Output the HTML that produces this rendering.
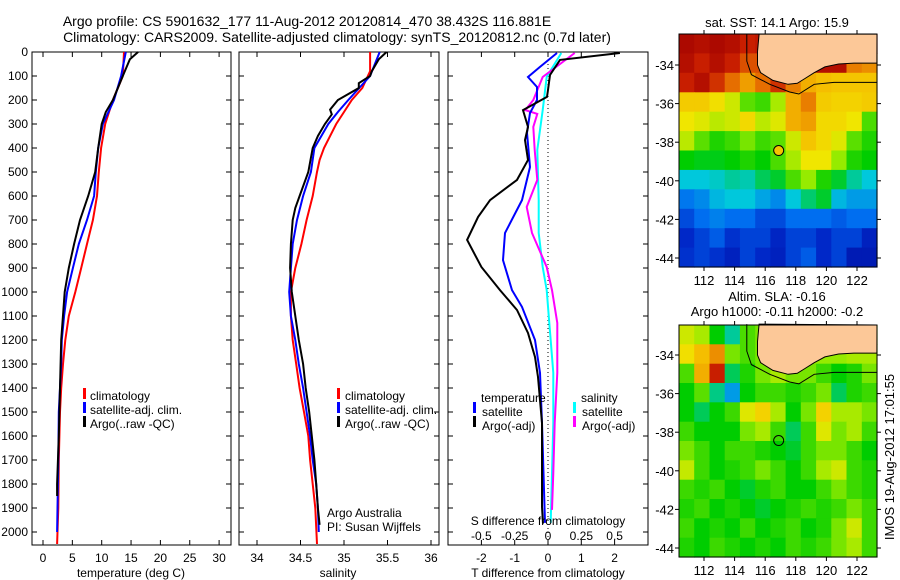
<!DOCTYPE html>
<html><head><meta charset="utf-8">
<style>
body{margin:0;background:#fff;}
svg{display:block;font-family:"Liberation Sans",sans-serif;}
text{font-size:12px;fill:#000;}
</style></head>
<body>
<svg id="fig" width="900" height="580" viewBox="0 0 900 580" xmlns="http://www.w3.org/2000/svg">
<text x="307" y="26" text-anchor="middle" style="font-size:14px">Argo profile: CS 5901632_177 11-Aug-2012 20120814_470 38.432S 116.881E</text>
<text x="337" y="42" text-anchor="middle" style="font-size:14px">Climatology: CARS2009. Satellite-adjusted climatology: synTS_20120812.nc (0.7d later)</text>
<g id="g"></g>
</svg>
<script>
// ---- data ----
const depthTicks=[0,100,200,300,400,500,600,700,800,900,1000,1100,1200,1300,1400,1500,1600,1700,1800,1900,2000];
const tempTicks=[0,5,10,15,20,25,30];
const salTicks=[34,34.5,35,35.5,36];
const tdiffTicks=[-2,-1,0,1,2];
const sdiffTicks=[-0.5,-0.25,0,0.25,0.5];
const sdiffLabels=["-0.5","-0.25","0","0.25","0.5"];
const lonTicks=[112,114,116,118,120,122];
const latTicks=[-34,-36,-38,-40,-42,-44];

const tClimD=[0,100,200,300,400,500,600,700,800,900,1000,1100,1200,1300,1400,1500,1700,1900,2050];
const tClim=[13.8,13.6,11.9,10.6,9.9,9.5,9.2,8.5,7.5,6.5,5.5,4.4,3.8,3.4,3.1,2.9,2.7,2.6,2.4];
const tSatD=[0,100,200,300,400,500,600,700,800,900,1000,1100,1200,1300,1500,1700,2000];
const tSat=[14.1,13.3,12.1,10.2,9.4,9.0,8.7,7.5,6.1,5.1,4.1,3.6,3.2,3.1,2.7,2.6,2.4];
const tArgoD=[0,30,100,200,250,300,400,500,600,700,800,900,1000,1200,1400,1600,1800,1850];
const tArgo=[16.2,14.8,13.6,11.9,10.7,10.0,9.4,8.9,7.7,6.3,5.3,4.4,3.7,3.1,2.9,2.7,2.4,2.4];

const sClimD=[0,80,150,200,250,300,400,450,500,600,700,800,900,1000,1100,1200,1300,1400,1500,1600,1700,1800,1900,2050];
const sClim=[35.30,35.30,35.21,35.09,35.0,34.91,34.77,34.72,34.69,34.64,34.57,34.51,34.44,34.39,34.39,34.41,34.45,34.49,34.54,34.59,34.61,34.64,34.67,34.69];
const sSatD=[0,100,200,250,300,400,500,600,700,800,900,1000,1100,1200,1300,1400,1500,1600,1700,1800,1900,2000];
const sSat=[35.41,35.30,35.05,34.93,34.82,34.66,34.62,34.53,34.46,34.41,34.39,34.37,34.39,34.44,34.48,34.53,34.57,34.61,34.64,34.68,34.70,34.71];
const sArgoD=[0,30,80,100,130,150,200,240,260,300,350,400,500,600,650,700,800,900,1000,1100,1200,1300,1400,1500,1600,1700,1800,1900,1970];
const sArgo=[35.49,35.40,35.32,35.30,35.17,35.17,34.93,34.84,34.86,34.78,34.70,34.64,34.59,34.49,34.44,34.41,34.39,34.38,34.40,34.44,34.48,34.53,34.56,34.60,34.63,34.66,34.68,34.70,34.72];

const dTArgoD=[4,33,96,158,187,242,312,367,450,533,617,687,783,896,992,1075,1171,1271,1354,1546,1896,1965];
const dTArgo=[2.16,0.36,0.06,0,-0.03,-0.75,-0.6,-0.69,-0.6,-0.93,-1.74,-2.1,-2.43,-2.0,-1.44,-0.93,-0.6,-0.39,-0.3,-0.18,-0.18,-0.15];
const dTSatD=[4,62,104,146,200,254,337,479,617,754,867,992,1062,1200,1337,1546,1962];
const dTSat=[0.27,-0.24,-0.6,-0.33,-0.33,-0.54,-0.63,-0.54,-0.78,-1.29,-1.35,-1.08,-0.78,-0.39,-0.24,-0.18,-0.09];
const dSArgoD=[4,104,200,242,258,312,408,533,646,754,896,992,1129,1337,1546,1754,1908];
const dSArgo=[0.2,-0.04,-0.11,-0.17,-0.08,-0.11,-0.1,-0.08,-0.16,-0.12,-0.01,0.03,0.07,0.07,0.05,0.04,0.03];
const dSSatD=[4,104,242,408,617,754,896,992,1129,1337,1546,1962];
const dSSat=[0.1,-0.01,-0.04,-0.08,-0.07,-0.07,-0.04,-0.01,0.01,0.04,0.04,0.02];

// map grids (13 lon cols from 110.4, 12 lat rows from -32.4), colour index 0..1, -1 = land
const sstGrid=[
[0.97,0.95,0.97,0.95,0.9,0.92,-1,-1,-1,-1,-1,-1,-1],
[0.95,0.9,0.95,0.9,0.85,0.85,-1,-1,-1,-1,-1,0.8,0.78],
[0.9,0.95,0.88,0.82,0.76,0.82,0.88,0.8,0.74,0.72,0.7,0.7,0.7],
[0.68,0.68,0.62,0.56,0.46,0.44,0.52,0.74,0.8,0.68,0.66,0.66,0.68],
[0.6,0.58,0.54,0.56,0.64,0.54,0.58,0.74,0.76,0.64,0.64,0.6,0.45],
[0.54,0.46,0.42,0.44,0.48,0.44,0.46,0.56,0.7,0.64,0.58,0.46,0.42],
[0.4,0.39,0.39,0.4,0.42,0.4,0.45,0.52,0.6,0.6,0.5,0.42,0.4],
[0.3,0.3,0.31,0.33,0.32,0.36,0.38,0.45,0.5,0.42,0.38,0.33,0.3],
[0.21,0.23,0.28,0.3,0.3,0.26,0.23,0.3,0.35,0.38,0.28,0.25,0.25],
[0.16,0.2,0.22,0.2,0.2,0.16,0.16,0.2,0.2,0.2,0.18,0.2,0.2],
[0.12,0.15,0.18,0.13,0.15,0.15,0.11,0.15,0.15,0.12,0.15,0.15,0.1],
[0.13,0.15,0.13,0.1,0.15,0.12,0.1,0.15,0.18,0.12,0.15,0.08,0.08]];
const slaGrid=[
[0.56,0.52,0.4,0.33,0.45,0.48,-1,-1,-1,-1,-1,-1,-1],
[0.62,0.72,0.78,0.48,0.45,0.48,-1,-1,-1,-1,-1,0.52,0.52],
[0.45,0.74,0.9,0.36,0.42,0.48,0.52,0.48,0.48,0.44,0.4,0.42,0.48],
[0.4,0.46,0.34,0.25,0.4,0.44,0.44,0.42,0.44,0.48,0.36,0.42,0.44],
[0.4,0.36,0.4,0.44,0.58,0.66,0.52,0.4,0.48,0.66,0.52,0.52,0.48],
[0.44,0.4,0.4,0.4,0.48,0.52,0.44,0.36,0.44,0.58,0.48,0.52,0.44],
[0.48,0.44,0.4,0.44,0.44,0.42,0.4,0.38,0.44,0.48,0.48,0.44,0.4],
[0.55,0.44,0.4,0.42,0.44,0.48,0.44,0.4,0.44,0.52,0.56,0.44,0.42],
[0.44,0.42,0.44,0.4,0.38,0.42,0.44,0.4,0.4,0.44,0.48,0.44,0.42],
[0.42,0.44,0.4,0.42,0.4,0.38,0.4,0.42,0.44,0.42,0.44,0.48,0.44],
[0.44,0.4,0.42,0.4,0.44,0.4,0.42,0.44,0.4,0.42,0.48,0.56,0.44],
[0.42,0.4,0.44,0.42,0.4,0.42,0.4,0.44,0.42,0.44,0.48,0.52,0.44]];
const argoLon=116.881, argoLat=-38.432;
const coastLon=[115.6,115.5,115.5,115.7,116.5,117.5,118.1,118.6,119.2,119.9,120.8,121.8,123.3];
const coastLat=[-32.4,-33.3,-34.0,-34.4,-34.8,-35.0,-34.95,-34.7,-34.4,-34.1,-33.95,-33.9,-33.9];
const isoLon=[114.8,114.8,115.1,116.3,117.6,118.2,119.2,120.5,123.3];
const isoLat=[-32.4,-33.8,-34.5,-35.0,-35.4,-35.5,-35.0,-34.9,-34.9];

// ---- scales ----
const NS="http://www.w3.org/2000/svg";
const G=document.getElementById('g');
function el(tag,attrs,parent){const e=document.createElementNS(NS,tag);for(const k in attrs)e.setAttribute(k,attrs[k]);(parent||G).appendChild(e);return e;}
const PT=52,PB=545;
const yD=d=>52+d*0.24;
const xT=t=>43+t*5.87;
const xS=s=>257+(s-34)*87;
const xDT=t=>548+t*33.3;
const xDS=s=>548+s*133.3;

function panel(x0,x1,name){
  const r=el('rect',{x:x0,y:PT,width:x1-x0,height:PB-PT,fill:'none',stroke:'#000','stroke-width':1});
  
  
  depthTicks.forEach(d=>{
    el('line',{x1:x0,x2:x0+5,y1:yD(d),y2:yD(d),stroke:'#000'});
    el('line',{x1:x1,x2:x1-5,y1:yD(d),y2:yD(d),stroke:'#000'});
  });
}
function xticks(vals,fx,labels,ly,name,top){
  vals.forEach((v,i)=>{
    const x=fx(v);
    if(top){el('line',{x1:x,x2:x,y1:PT,y2:PT+5,stroke:'#000'});}
    el('line',{x1:x,x2:x,y1:PB,y2:PB-5,stroke:'#000'});
    if(ly){const t=el('text',{x:x,y:ly,'text-anchor':'middle'});t.textContent=labels?labels[i]:String(v);
      
      }
  });
}
function line(xs,ds,fx,color,name,w){
  const pts=xs.map((v,i)=>fx(v).toFixed(1)+','+yD(ds[i]).toFixed(1)).join(' ');
  const p=el('polyline',{points:pts,fill:'none',stroke:color,'stroke-width':w||2});
  
  
}
function txt(x,y,s,name,anchor){const t=el('text',{x:x,y:y,'text-anchor':anchor||'start'});t.textContent=s;
  
  return t;}
function legBar(x,y,c){el('rect',{x:x,y:y-10,width:3,height:11,fill:c});}

// panel 1 temperature
panel(32,231,'temperature-panel');
depthTicks.forEach(d=>{txt(28,yD(d)+4,String(d),'depth-tick-label','end');});
xticks(tempTicks,xT,null,562,'temperature-tick-label',true);
line(tClim,tClimD,xT,'#ff0000','temp-climatology-line');
line(tSat,tSatD,xT,'#0000ff','temp-satellite-line');
line(tArgo,tArgoD,xT,'#000000','temp-argo-line');
txt(131,577,'temperature (deg C)','temperature-axis-title','middle');
legBar(83,398,'#ff0000');txt(90,400,'climatology','legend-climatology');
legBar(83,412,'#0000ff');txt(90,414,'satellite-adj. clim.','legend-satellite');
legBar(83,426,'#000');txt(90,428,'Argo(..raw -QC)','legend-argo');

// panel 2 salinity
panel(239,439,'salinity-panel');
xticks(salTicks,xS,null,562,'salinity-tick-label',true);
line(sClim,sClimD,xS,'#ff0000','sal-climatology-line');
line(sSat,sSatD,xS,'#0000ff','sal-satellite-line');
line(sArgo,sArgoD,xS,'#000000','sal-argo-line');
txt(338,577,'salinity','salinity-axis-title','middle');
legBar(337,398,'#ff0000');txt(345,400,'climatology','legend-climatology-2');
legBar(337,412,'#0000ff');txt(345,414,'satellite-adj. clim.','legend-satellite-2');
legBar(337,426,'#000');txt(345,428,'Argo(..raw -QC)','legend-argo-2');
txt(327,517,'Argo Australia','credit-argo-australia');
txt(327,531,'PI: Susan Wijffels','credit-pi');

// panel 3 differences
panel(448,648,'difference-panel');
xticks(tdiffTicks,xDT,null,562,'tdiff-tick-label',true);
sdiffTicks.forEach((v,i)=>txt(xDS(v),540,sdiffLabels[i],'sdiff-tick-label','middle'));
el('line',{x1:xDT(0),x2:xDT(0),y1:PT,y2:PB,stroke:'#000','stroke-dasharray':'1,3'});
line(dSSat,dSSatD,xDS,'#00ffff','sdiff-satellite-line');
line(dSArgo,dSArgoD,xDS,'#ff00ff','sdiff-argo-line');
line(dTSat,dTSatD,xDT,'#0000ff','tdiff-satellite-line');
line(dTArgo,dTArgoD,xDT,'#000000','tdiff-argo-line');
txt(548,525,'S difference from climatology','sdiff-axis-title','middle');
txt(548,577,'T difference from climatology','tdiff-axis-title','middle');
txt(481,402,'temperature','legend-temperature-header');
legBar(473,412,'#0000ff');txt(482,416,'satellite','legend-t-satellite');
legBar(473,426,'#000');txt(482,430,'Argo(-adj)','legend-t-argo');
txt(581,402,'salinity','legend-salinity-header');
legBar(573,412,'#00ffff');txt(582,416,'satellite','legend-s-satellite');
legBar(573,426,'#ff00ff');txt(582,430,'Argo(-adj)','legend-s-argo');

// maps
function cmap(v){
  const stops=[[0,[0,0,140]],[0.12,[0,40,200]],[0.2,[0,110,240]],[0.3,[0,200,220]],[0.4,[0,205,0]],[0.5,[150,235,0]],[0.6,[240,230,0]],[0.72,[245,190,0]],[0.82,[230,110,0]],[0.9,[200,30,0]],[1,[160,0,0]]];
  for(let i=1;i<stops.length;i++){if(v<=stops[i][0]){const a=stops[i-1],b=stops[i],f=(v-a[0])/(b[0]-a[0]);
    return 'rgb('+a[1].map((c,k)=>Math.round(c+(b[1][k]-c)*f)).join(',')+')';}}
  return 'rgb(160,0,0)';
}
function drawMap(grid,x0,y0,x1,y1,latY,name,filled,tickLabelsY){
  const lonX=l=>704+(l-112)*15.3;
  const LY=latY;
  const g=el('g',{});
  
  
  const cw=(x1-x0)/13,ch=(y1-y0)/12;
  grid.forEach((row,r)=>row.forEach((v,c)=>{
    const cell=el('rect',{x:(x0+c*cw).toFixed(1),y:(y0+r*ch).toFixed(1),width:(cw+0.6).toFixed(1),height:(ch+0.6).toFixed(1),fill:v<0?cmap(grid===sstGrid?0.95:0.5):cmap(v)},g);
    
    
  }));
  const pts=coastLon.map((l,i)=>lonX(l).toFixed(1)+','+LY(coastLat[i]).toFixed(1));
  pts.push(x1+','+y0);
  const land=el('polygon',{points:pts.join(' '),fill:'#fcc898',stroke:'#000','stroke-width':1},g);
  
  
  const iso=el('polyline',{points:isoLon.map((l,i)=>lonX(l).toFixed(1)+','+LY(isoLat[i]).toFixed(1)).join(' '),fill:'none',stroke:'#000','stroke-width':1},g);
  
  
  el('rect',{x:x0,y:y0,width:x1-x0,height:y1-y0,fill:'none',stroke:'#000'});
  const dot=el('circle',{cx:lonX(argoLon),cy:LY(argoLat),r:5,fill:filled?'#f5c400':'none',stroke:'#000','stroke-width':1});
  
  
  lonTicks.forEach(l=>{const x=lonX(l);el('line',{x1:x,x2:x,y1:y0,y2:y0-4,stroke:'#000'});el('line',{x1:x,x2:x,y1:y1,y2:y1+4,stroke:'#000'});
    const t=txt(x,tickLabelsY,String(l),'map-lon-tick-label','middle');t.style.fontSize='13px';});
  latTicks.forEach(l=>{const y=LY(l);el('line',{x1:x0,x2:x0-4,y1:y,y2:y,stroke:'#000'});el('line',{x1:x1,x2:x1+4,y1:y,y2:y,stroke:'#000'});
    const t=txt(674,y+5,String(l),'map-lat-tick-label','end');t.style.fontSize='13px';});
}
drawMap(sstGrid,679,34,877,267,l=>65+(-34-l)*19.3,'sst-map',true,285);
drawMap(slaGrid,679,325,877,557,l=>355+(-34-l)*19.3,'sla-map',false,575);
txt(777,27,'sat. SST: 14.1  Argo: 15.9','sst-map-title','middle').style.fontSize='13px';
txt(777,301,'Altim. SLA: -0.16','sla-map-title','middle').style.fontSize='13px';
txt(777,316,'Argo h1000: -0.11  h2000: -0.2','sla-map-subtitle','middle').style.fontSize='13px';
const st=txt(0,0,'IMOS 19-Aug-2012 17:01:55','timestamp','middle');
st.style.fontSize='13px';
st.setAttribute('transform','translate(894,457) rotate(-90)');
</script>
</body></html>
